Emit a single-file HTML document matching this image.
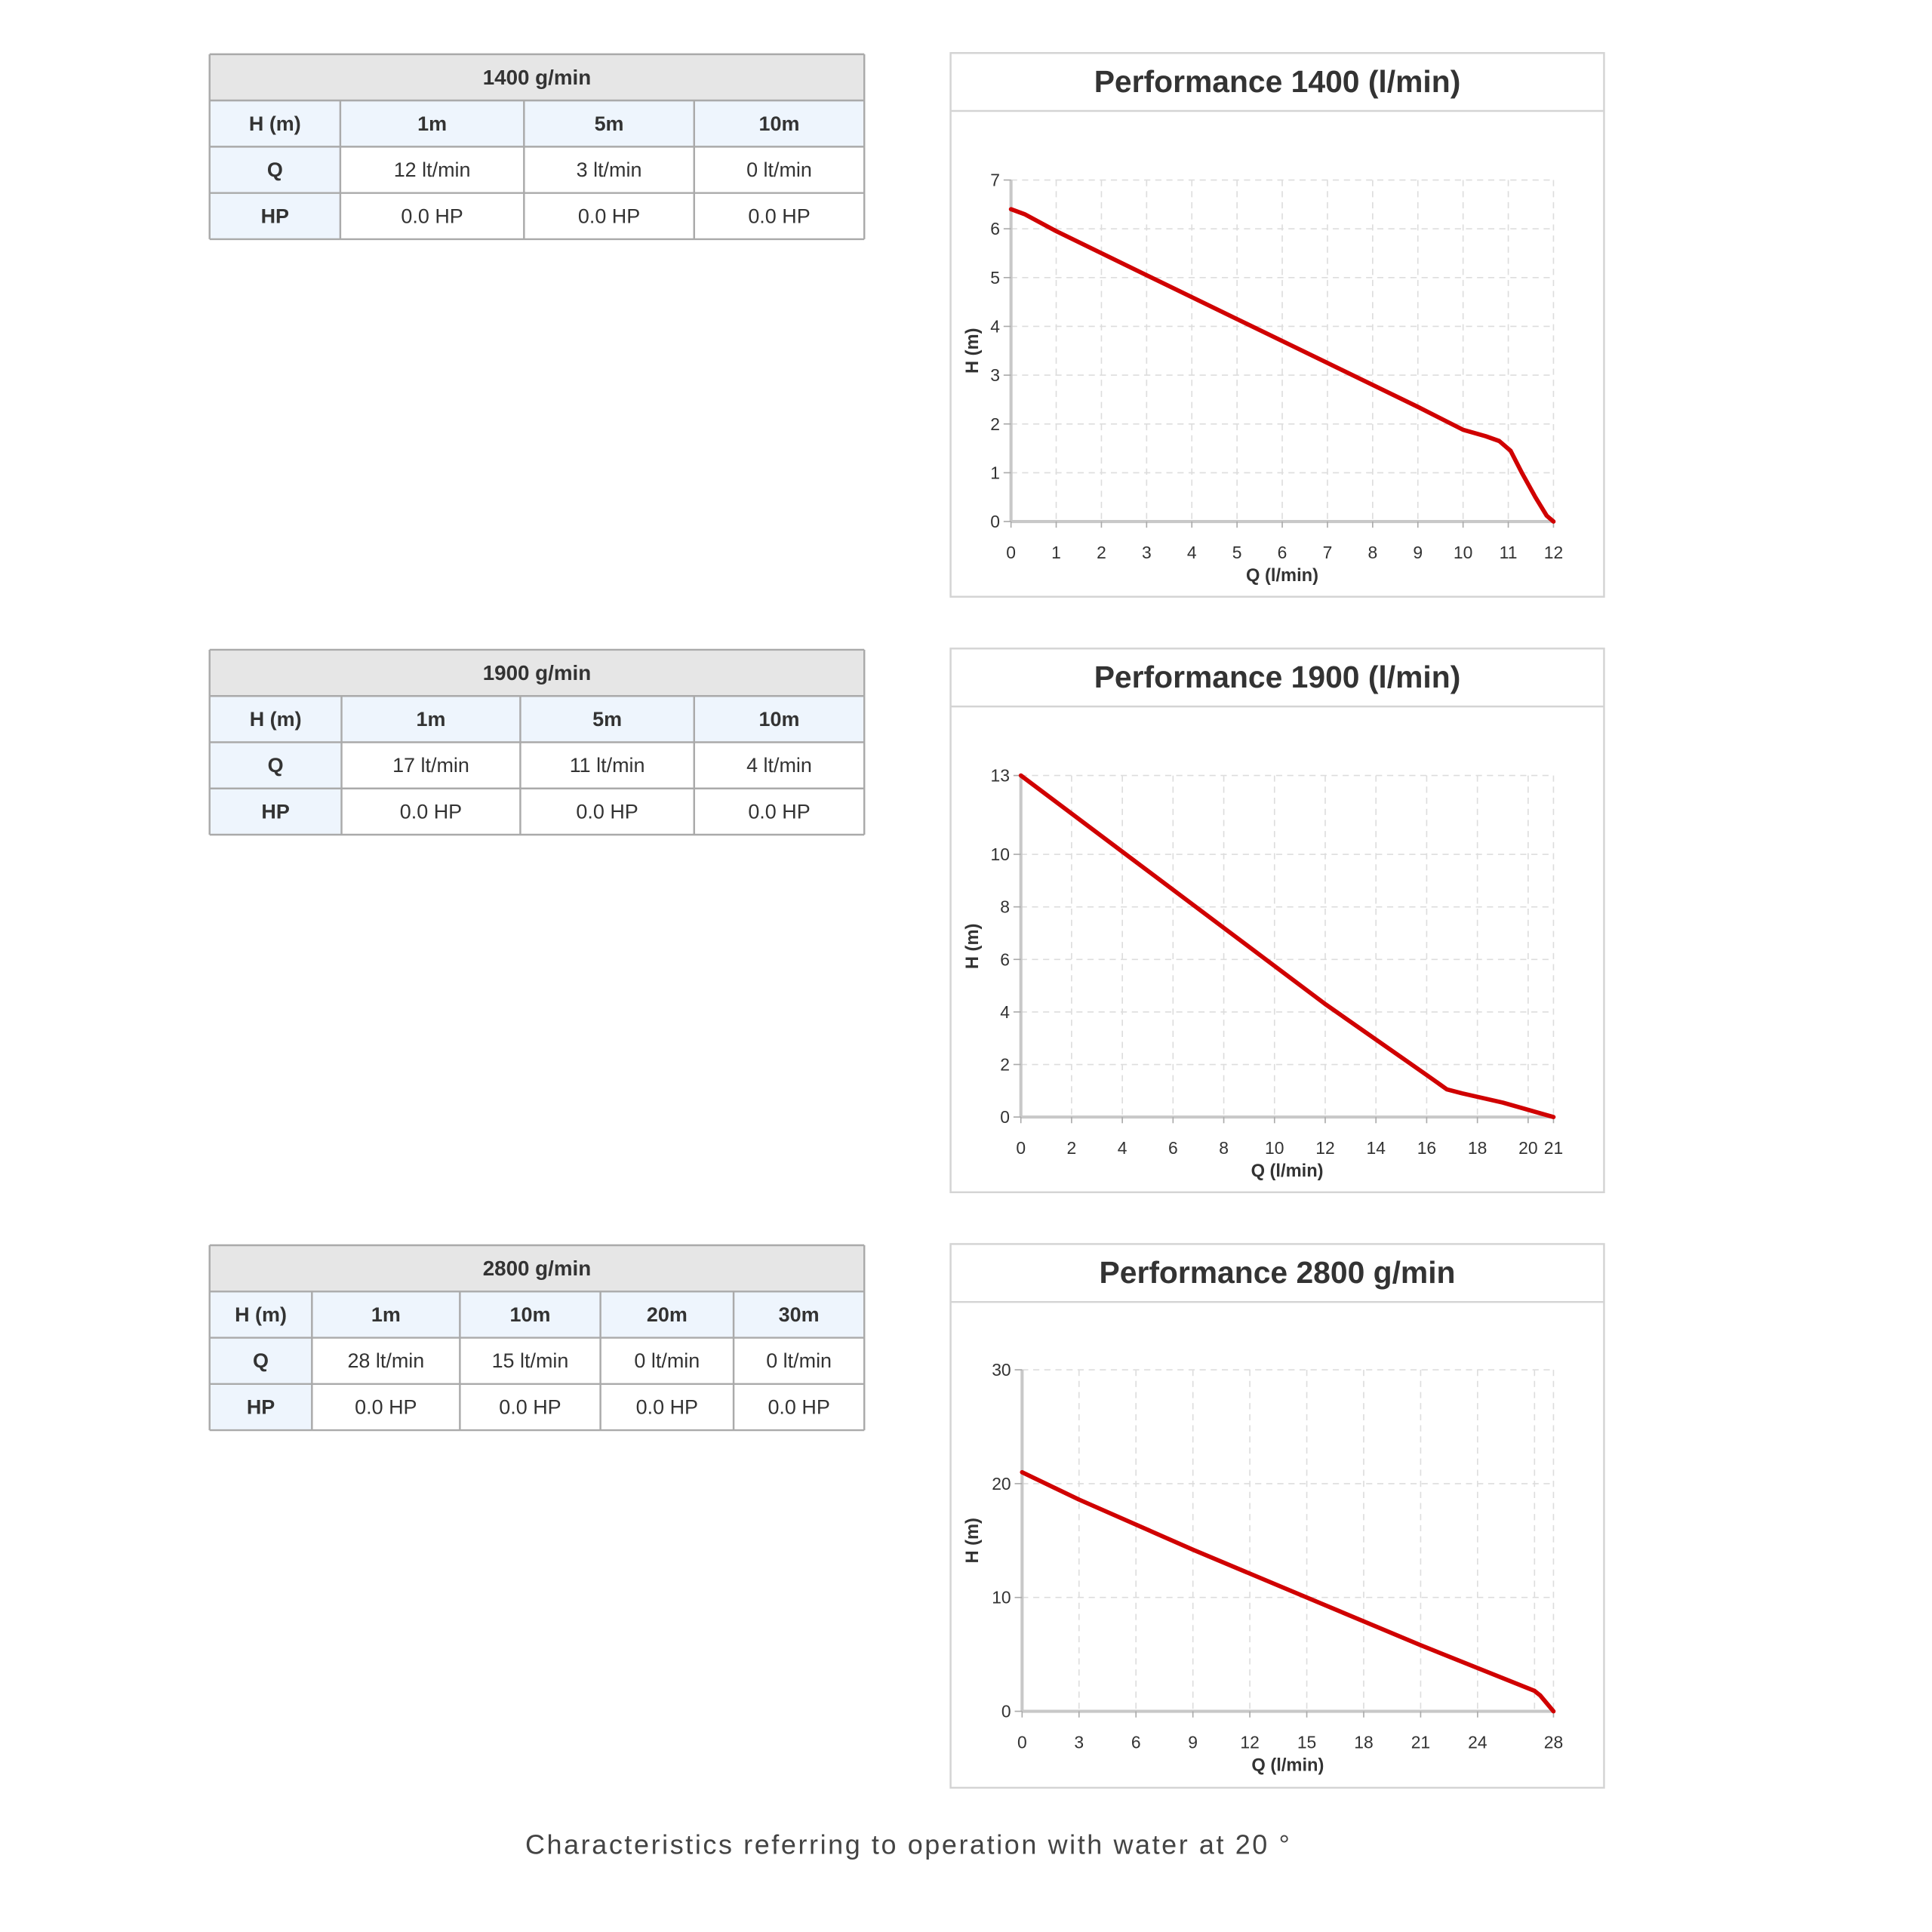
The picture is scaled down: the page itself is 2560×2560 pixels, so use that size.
<!DOCTYPE html>
<html><head><meta charset="utf-8"><style>
html,body{margin:0;padding:0;background:#fff;width:2560px;height:2560px;overflow:hidden}
svg{display:block}
text{font-family:"Liberation Sans",sans-serif}
</style></head><body>
<svg id="s" width="2560" height="2560" viewBox="0 0 1567 1567" xmlns="http://www.w3.org/2000/svg"></svg>
<script>
var S=document.getElementById('s'),h='';
function R(x,y,w,hh,f,st){h+='<rect x="'+x+'" y="'+y+'" width="'+w+'" height="'+hh+'" fill="'+f+'"'+(st?' stroke="'+st+'" stroke-width="1.5"':'')+'/>';}
function T(x,y,s,t,o){o=o||{};h+='<text x="'+x+'" y="'+y+'" font-size="'+s+'" fill="'+(o.c||'#333')+'" text-anchor="'+(o.a||'middle')+'" dominant-baseline="central"'+(o.b?' font-weight="bold"':'')+(o.tl?' textLength="'+o.tl+'" lengthAdjust="spacing"':'')+(o.r?' transform="rotate(-90 '+x+' '+y+')"':'')+'>'+t+'</text>';}
function L(x1,y1,x2,y2,c,w,d){h+='<line x1="'+x1+'" y1="'+y1+'" x2="'+x2+'" y2="'+y2+'" stroke="'+c+'" stroke-width="'+w+'"'+(d?' stroke-dasharray="'+d+'"':'')+'/>';}
function table(y,cols,title,r1,r2){
 var x0=170,x1=701,rh=37.5;
 R(x0,y,x1-x0,rh,'#e6e6e6');
 R(x0,y+rh,x1-x0,rh,'#eef5fd');
 R(x0,y+rh,cols[1]-x0,rh*3,'#eef5fd');
 T((x0+x1)/2,y+rh/2,17,title,{b:1});
 for(var r=0;r<5;r++)L(x0,y+r*rh,x1,y+r*rh,'#aaa',1.5);
 L(x0,y,x0,y+4*rh,'#aaa',1.5);L(x1,y,x1,y+4*rh,'#aaa',1.5);
 for(var i=1;i<cols.length-1;i++)L(cols[i],y+rh,cols[i],y+4*rh,'#aaa',1.5);
 var data=[r1,r2[1],r2[2]];
 for(var r=0;r<3;r++)for(var i=0;i<cols.length-1;i++){
  T((cols[i]+cols[i+1])/2,y+rh*(r+1.5),16.5,data[r][i],{b:(r==0||i==0)});
 }
}
table(44,[170,276,425,563,701],'1400 g/min',['H (m)','1m','5m','10m'],[0,['Q','12 lt/min','3 lt/min','0 lt/min'],['HP','0.0 HP','0.0 HP','0.0 HP']]);
table(527,[170,277,422,563,701],'1900 g/min',['H (m)','1m','5m','10m'],[0,['Q','17 lt/min','11 lt/min','4 lt/min'],['HP','0.0 HP','0.0 HP','0.0 HP']]);
table(1010,[170,253,373,487,595,701],'2800 g/min',['H (m)','1m','10m','20m','30m'],[0,['Q','28 lt/min','15 lt/min','0 lt/min','0 lt/min'],['HP','0.0 HP','0.0 HP','0.0 HP','0.0 HP']]);

function chart(y0,title,px0,px1,py0,py1,xmax,ymax,xt,yt,xg,yg,pts){
 R(771,y0,530,441,'#fff','#d4d4d4');
 L(771,y0+47,1301,y0+47,'#d4d4d4',1.5);
 T(1036,y0+23,25,title,{b:1,c:'#333'});
 var X=function(v){return px0+(px1-px0)*v/xmax},Y=function(v){return py0-(py0-py1)*v/ymax};
 xg.forEach(function(v){L(X(v),py1,X(v),py0,'#ddd',1,'5,4')});
 yg.forEach(function(v){L(px0,Y(v),px1,Y(v),'#ddd',1,'5,4')});
 L(px0,py1,px0,py0,'#c8c8c8',2.5);L(px0,py0,px1,py0,'#c8c8c8',2.5);
 xt.forEach(function(v){L(X(v),py0,X(v),py0+5,'#aaa',1);T(X(v),py0+25,14,v)});
 yt.forEach(function(v){L(px0-6,Y(v),px0,Y(v),'#aaa',1);T(px0-9,Y(v),14,v,{a:'end'})});
 T((px0+px1)/2,py0+44,14.5,'Q (l/min)',{b:1});
 T(789,(py0+py1)/2,14.5,'H (m)',{b:1,r:1});
 var d='M'+pts.map(function(p){return X(p[0]).toFixed(1)+','+Y(p[1]).toFixed(1)}).join(' L');
 h+='<path d="'+d+'" fill="none" stroke="#d00000" stroke-width="3.5" stroke-linejoin="round" stroke-linecap="round"/>';
}
function rng(a,b,s){var r=[];for(var v=a;v<=b+1e-9;v+=s)r.push(v);return r}
chart(43,'Performance 1400 (l/min)',820,1260,423,146,12,7,rng(0,12,1),rng(0,7,1),rng(1,12,1),rng(1,7,1),
 [[0,6.4],[0.3,6.3],[1,5.95],[3,5.05],[5,4.15],[7,3.25],[9,2.35],[10,1.88],[10.5,1.75],[10.8,1.65],[11.05,1.45],[11.3,1.0],[11.6,0.5],[11.85,0.12],[12,0]]);
chart(526,'Performance 1900 (l/min)',828,1260,906,629,21,13,[0,2,4,6,8,10,12,14,16,18,20,21],[0,2,4,6,8,10,13],[2,4,6,8,10,12,14,16,18,20,21],[2,4,6,8,10,13],
 [[0,13],[4,10.1],[8,7.2],[12,4.3],[16,1.6],[16.8,1.05],[17.4,0.9],[19,0.55],[21,0]]);
chart(1009,'Performance 2800 g/min',829,1260,1388,1111,28,30,rng(0,24,3).concat([28]),[0,10,20,30],rng(3,27,3).concat([28]),[10,20,30],
 [[0,21],[3,18.6],[9,14.2],[15,10],[21,5.8],[27,1.8],[27.3,1.4],[28,0]]);
T(736,1496,22,'Characteristics referring to operation with water at 20 °',{c:'#444',tl:620});
S.innerHTML=h;
</script>
</body></html>
